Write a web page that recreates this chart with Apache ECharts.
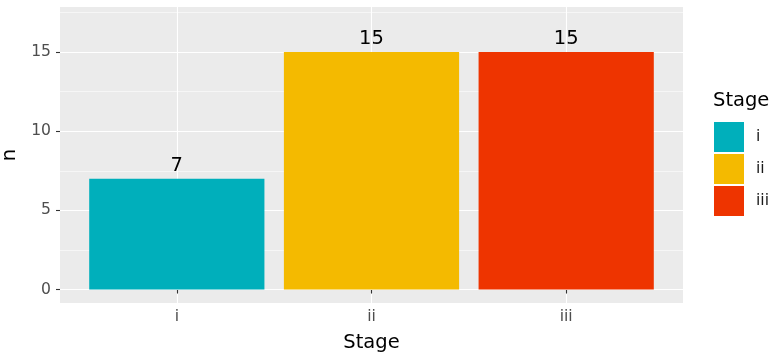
<!DOCTYPE html>
<html><head><meta charset="utf-8">
<script src="https://cdn.jsdelivr.net/npm/echarts@6/dist/echarts.min.js"></script>
<style>html,body{margin:0;padding:0;background:#fff}#c{width:777px;height:360px}</style>
</head><body><div id="c"></div>
<script>
const stages = ['i', 'ii', 'iii'];
const counts = [7, 15, 15];
const colors = ['#00AFBB', '#F4BA00', '#EE3400'];
const yMajor = [0, 5, 10, 15];
const yMinor = [2.5, 7.5, 12.5, 17.5];
const xPos = [1, 2, 3];

const FONT = 'DejaVu Sans';
const chart = echarts.init(document.getElementById('c'), null, {renderer: 'canvas'});

function renderBar(params, api) {
  const x = api.value(0), y = api.value(1);
  const p0 = api.coord([x - 0.45, y]);
  const p1 = api.coord([x + 0.45, 0]);
  const top = api.coord([x, y]);
  return {
    type: 'group',
    children: [
      {type: 'rect', shape: {x: p0[0], y: p0[1], width: p1[0] - p0[0], height: p1[1] - p0[1]},
       style: {fill: api.visual('color')}},
      {type: 'text', x: top[0], y: top[1] - 3,
       style: {text: String(y), fill: '#000', font: '19.5px "' + FONT + '"', align: 'center', verticalAlign: 'bottom'}}
    ]
  };
}

const series = stages.map((s, i) => ({
  type: 'custom',
  name: s,
  renderItem: renderBar,
  itemStyle: {color: colors[i]},
  encode: {x: 0, y: 1},
  data: [[xPos[i], counts[i]]],
  z: 5
}));

const yCommon = {type: 'value', min: -0.85, max: 17.85, axisLine: {show: false}};

chart.setOption({
  animation: false,
  textStyle: {fontFamily: FONT},
  grid: {left: 60, right: 94, top: 7, bottom: 57, containLabel: false, outerBoundsMode: 'none',
         show: true, backgroundColor: '#EBEBEB', borderWidth: 0},
  title: {text: 'Stage', left: 713, top: 91, padding: 0,
          textStyle: {fontFamily: FONT, fontSize: 19.5, fontWeight: 'normal', color: '#000'}},
  legend: {
    orient: 'vertical', left: 714, top: 122, padding: 0,
    itemWidth: 30, itemHeight: 30, itemGap: 2, icon: 'rect',
    data: stages,
    textStyle: {fontFamily: FONT, fontSize: 15.6, color: '#1A1A1A', padding: [0, 0, 0, 7]}
  },
  xAxis: {
    type: 'value', min: 0.4, max: 3.6,
    name: 'Stage', nameLocation: 'middle', nameGap: 30,
    nameTextStyle: {fontFamily: FONT, fontSize: 19.5, color: '#000', verticalAlign: 'top'},
    axisLine: {show: false},
    axisTick: {show: true, length: 4, customValues: xPos, lineStyle: {color: '#333', width: 1.1}},
    axisLabel: {customValues: xPos, margin: 6, fontFamily: FONT, fontSize: 15.6, color: '#4D4D4D',
                formatter: v => stages[Math.round(v) - 1]},
    splitLine: {show: true, lineStyle: {color: '#fff', width: 1.1}}
  },
  yAxis: [
    Object.assign({}, yCommon, {
      name: 'n', nameLocation: 'middle', nameGap: 36, nameRotate: 90,
      nameTextStyle: {fontFamily: FONT, fontSize: 19.5, color: '#000'},
      axisTick: {show: true, length: 4, customValues: yMajor, lineStyle: {color: '#333', width: 1.1}},
      axisLabel: {customValues: yMajor, margin: 9, fontFamily: FONT, fontSize: 15.6, color: '#4D4D4D'},
      splitLine: {show: true, lineStyle: {color: '#fff', width: 1.1}},
      z: 2
    }),
    Object.assign({}, yCommon, {
      axisTick: {show: false, customValues: yMinor},
      axisLabel: {show: false, customValues: yMinor},
      splitLine: {show: true, lineStyle: {color: '#fff', width: 0.55}},
      z: 1
    })
  ],
  series: series
});
</script></body></html>
